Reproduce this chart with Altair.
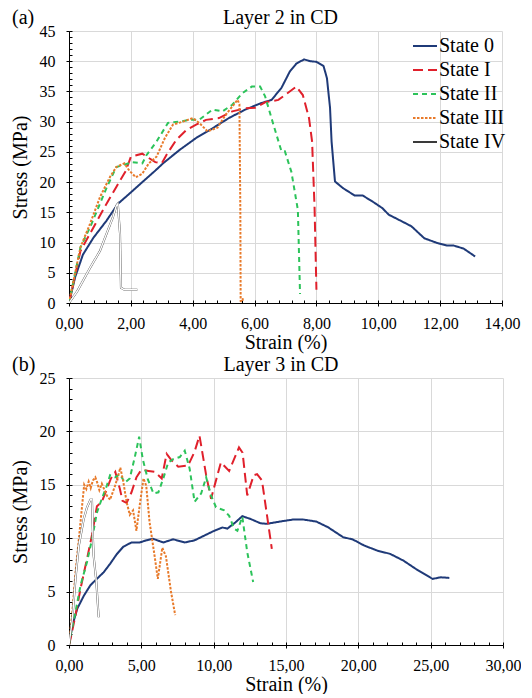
import altair as alt
import pandas as pd

STATES = ["State 0", "State I", "State II", "State III", "State IV"]
COLORS = ["#1f3a78", "#e0202b", "#2cc35a", "#e87a2a", "#3a3a3a"]
DASHES = [[1, 0], [10, 5], [5, 4], [2.5, 1.5], [1, 0]]
WIDTHS = [2, 2, 2, 2, 3.8]
FONT = "Liberation Serif"

# ---------------- Panel (a): Layer 2 in CD ----------------
a0_x = [0, 0.2, 0.45, 0.79, 1.21, 1.58, 2.0, 2.37, 2.79, 3.04, 3.57, 4.11, 4.64, 5.17, 5.70, 6.23, 6.55, 6.87, 7.14, 7.35,
        7.6, 7.81, 8.0, 8.23, 8.34, 8.44, 8.49, 8.6, 8.86, 9.23, 9.49, 9.81, 10.13, 10.34, 10.65, 11.07, 11.49, 11.92, 12.23, 12.44,
        12.76, 13.13]
a0_y = [0, 4.3, 8.0, 10.8, 13.6, 16.4, 18.3, 20.0, 21.9, 23.1, 25.3, 27.3, 28.9, 30.6, 32.0, 33.1, 33.6, 35.6, 38.3, 39.6,
        40.3, 40.0, 39.9, 39.2, 37.2, 32.3, 26.7, 20.1, 19.0, 17.8, 17.8, 16.8, 15.7, 14.6, 13.8, 12.7, 10.7, 9.9, 9.5, 9.5,
        9.0, 7.7]
a1_x = [0, 0.37, 0.79, 1.21, 1.53, 1.84, 2.0, 2.37, 2.79, 3.0, 3.15, 3.47, 3.79, 4.11, 4.43, 4.85, 5.28, 5.7, 6.02, 6.34,
        6.77, 6.98, 7.35, 7.56, 7.76, 7.86, 7.94, 8.0]
a1_y = [0, 8.6, 12.5, 16.4, 19.2, 21.9, 24.2, 24.7, 23.3, 23.1, 24.5, 27.0, 28.6, 29.5, 30.3, 30.6, 31.7, 32.2, 32.3, 33.2,
        33.6, 34.4, 35.8, 34.4, 30.6, 26.7, 15.7, 2.2]
a2_x = [0, 0.37, 0.68, 0.95, 1.21, 1.53, 1.74, 2.05, 2.37, 2.51, 2.83, 3.2, 3.57, 3.9, 4.21, 4.64, 4.96, 5.28, 5.6, 5.91,
        6.18, 6.34, 6.61, 6.87, 6.98, 7.19, 7.4, 7.47]
a2_y = [0, 9.2, 12.5, 15.8, 19.0, 22.5, 22.8, 23.3, 23.1, 24.5, 26.7, 29.8, 30.0, 30.3, 30.3, 32.0, 31.7, 32.8, 34.7, 35.8,
        35.8, 34.2, 29.5, 25.1, 25.1, 21.7, 15.4, 1.5]
a3_x = [0, 0.37, 0.68, 1.0, 1.32, 1.53, 1.79, 1.95, 2.16, 2.37, 2.58, 2.83, 3.1, 3.36, 3.68, 4.0, 4.21, 4.48, 4.8, 5.06,
        5.45, 5.51, 5.54, 5.55, 5.6, 5.63]
a3_y = [0, 9.2, 13.1, 17.5, 20.8, 22.5, 23.1, 21.9, 20.8, 21.4, 23.1, 24.2, 27.3, 29.5, 30.0, 30.6, 29.8, 28.4, 29.0, 31.1,
        33.6, 32.9, 15.1, 0.3, 0.2, 0.9]
a4_x = [0, 0.26, 0.68, 1.0, 1.21, 1.42, 1.53, 1.58, 1.65, 1.68, 1.79, 2.21]
a4_y = [0, 1.9, 5.8, 8.6, 11.4, 14.2, 16.1, 16.4, 11.4, 2.5, 2.2, 2.2]

# ---------------- Panel (b): Layer 3 in CD ----------------
b0_x = [0, 0.23, 0.57, 1.02, 1.48, 1.93, 2.39, 2.84, 3.3, 3.75, 4.32, 4.89, 5.34, 5.8, 6.52, 7.2, 8.0, 8.68, 9.36, 10.05,
        10.61, 10.95, 11.52, 11.98, 12.55, 13.23, 13.68, 14.59, 15.5, 16.18, 17.09, 17.9, 18.94, 19.62, 20.41, 21.31, 22.2,
        23.12, 24.0, 25.13, 25.7, 26.29]
b0_y = [0, 1.8, 3.4, 4.6, 5.6, 6.2, 6.8, 7.6, 8.5, 9.2, 9.6, 9.6, 9.8, 9.95, 9.6, 9.9, 9.6, 9.8, 10.25, 10.7,
        11.0, 10.9, 11.5, 12.06, 11.8, 11.4, 11.35, 11.56, 11.75, 11.75, 11.56, 11.03, 10.1, 9.88, 9.31, 8.84, 8.53,
        7.9, 7.1, 6.19, 6.34, 6.28]
b1_x = [0, 0.11, 0.45, 0.8, 1.25, 1.59, 1.93, 2.27, 2.61, 2.9, 3.2, 3.52, 3.7, 3.98, 4.32, 4.66, 5.0, 5.5, 5.95, 6.41,
        6.75, 7.09, 7.55, 8.23, 8.68, 9.02, 9.48, 9.82, 10.5, 11.07, 11.75, 12.0, 12.32, 12.77, 13.0, 13.34, 14.02]
b1_y = [0, 0.6, 2.8, 5.3, 8.1, 10.3, 13.0, 13.4, 14.6, 15.6, 16.2, 14.6, 13.5, 13.3, 14.3, 15.7, 16.4, 16.3, 16.2, 15.6,
        17.9, 17.3, 16.7, 16.8, 18.1, 19.6, 15.9, 13.7, 17.1, 16.3, 18.5, 18.0, 14.0, 15.9, 16.0, 15.4, 9.0]
b2_x = [0, 0.11, 0.45, 0.8, 1.25, 1.59, 1.93, 2.27, 2.61, 2.84, 3.18, 3.52, 3.86, 4.2, 4.55, 4.85, 5.1, 5.45, 5.84, 6.18,
        6.52, 6.86, 7.2, 7.66, 8.0, 8.34, 8.68, 9.14, 9.48, 9.82, 10.16, 10.73, 11.07, 11.41, 11.64, 11.98, 12.32, 12.73]
b2_y = [0, 0.9, 3.1, 5.6, 7.8, 9.9, 12.4, 13.7, 14.9, 15.9, 15.7, 16.0, 15.2, 15.6, 17.6, 19.5, 17.4, 15.5, 14.2, 14.3,
        15.6, 17.1, 17.4, 17.6, 18.2, 16.5, 13.4, 14.2, 15.7, 14.0, 12.9, 12.6, 12.1, 10.9, 10.7, 12.0, 8.7, 5.9]
b3_x = [0, 0.23, 0.45, 0.68, 0.91, 1.05, 1.2, 1.36, 1.5, 1.65, 1.82, 1.93, 2.1, 2.27, 2.61, 2.84, 3.18, 3.41, 3.55, 3.75,
        3.98, 4.2, 4.43, 4.66, 4.89, 5.15, 5.34, 5.57, 5.91, 6.14, 6.45, 6.7, 7.05, 7.34]
b3_y = [0, 3.1, 6.8, 9.9, 13.1, 15.0, 14.6, 15.3, 14.7, 15.4, 15.7, 15.3, 14.5, 15.1, 14.0, 13.6, 14.9, 15.9, 16.6, 15.3,
        13.4, 12.2, 12.6, 10.7, 13.1, 15.6, 14.9, 11.5, 8.4, 6.2, 9.1, 8.3, 5.0, 2.8]
b4_x = [0, 0.23, 0.45, 0.68, 1.02, 1.25, 1.48, 1.59, 1.66, 1.7, 1.89, 2.05]
b4_y = [0, 2.4, 6.2, 9.3, 11.8, 12.9, 13.6, 13.6, 9.9, 8.4, 5.9, 2.6]


def frame(series):
    rows = []
    for state, xs, ys in series:
        for i, (x, y) in enumerate(zip(xs, ys)):
            rows.append({"state": state, "strain": x, "stress": y, "i": i})
    return pd.DataFrame(rows)


def ticks(stop, step):
    out, k = [], 0
    while k * step <= stop + 1e-9:
        out.append(round(k * step, 4))
        k += 1
    return out


AX = dict(labelFont=FONT, labelFontSize=16, labelColor="black", labelFontWeight="normal",
          titleFont=FONT, titleFontSize=20, titleFontWeight="normal", titleColor="black",
          domainColor="black", tickColor="black", gridColor="#d9d9d9", domainWidth=1, tickWidth=1,
          labelFlush=False, labelOverlap=False)


def panel(df, title, tag, xmax, xstep, xminor, ymax, ystep, w, h, legx, legy):
    xs = alt.Scale(domain=[0, xmax], nice=False, zero=True)
    ys = alt.Scale(domain=[0, ymax], nice=False, zero=True)
    lab = "replace(format(datum.value, '.2f'), '.', ',')"
    leg = alt.Legend(orient="none", legendX=legx, legendY=legy, title=None, symbolType="stroke",
                     symbolSize=576, symbolStrokeWidth=2, labelFont=FONT, labelFontSize=20,
                     labelColor="black", labelOffset=1, rowPadding=1, padding=0)
    base = alt.Chart(df)
    lines = base.mark_line(clip=True).encode(
        x=alt.X("strain:Q", scale=xs, axis=alt.Axis(
            orient="bottom", values=ticks(xmax, xstep), labelExpr=lab, title="Strain (%)",
            tickSize=3, labelPadding=9, titlePadding=1, grid=True, **AX)),
        y=alt.Y("stress:Q", scale=ys, axis=alt.Axis(
            orient="left", values=ticks(ymax, ystep), format="d", title="Stress (MPa)",
            tickSize=3, labelPadding=11, titlePadding=9, grid=True, **AX)),
        color=alt.Color("state:N", scale=alt.Scale(domain=STATES, range=COLORS), legend=leg),
        strokeDash=alt.StrokeDash("state:N", scale=alt.Scale(domain=STATES, range=DASHES), legend=leg),
        strokeWidth=alt.StrokeWidth("state:N", scale=alt.Scale(domain=STATES, range=WIDTHS), legend=None),
        order=alt.Order("i:Q"),
    )
    inner = base.transform_filter(alt.datum.state == "State IV").mark_line(
        color="white", strokeWidth=1.4, clip=True).encode(
        x=alt.X("strain:Q", scale=xs, axis=None),
        y=alt.Y("stress:Q", scale=ys, axis=None),
        order=alt.Order("i:Q"),
    )
    minor = base.mark_point(opacity=0).encode(
        x=alt.X("strain:Q", scale=xs, axis=alt.Axis(
            orient="bottom", values=ticks(xmax, xminor), offset=-3, tickSize=3, labels=False,
            domain=False, grid=False, title=None, tickColor="black", tickWidth=1)),
        y=alt.Y("stress:Q", scale=ys, axis=alt.Axis(
            orient="left", values=ticks(ymax, 1), offset=-3, tickSize=3, labels=False,
            domain=False, grid=False, title=None, tickColor="black", tickWidth=1)),
    )
    heads = alt.Chart(pd.DataFrame({"t": [tag]})).mark_text(
        align="left", baseline="alphabetic", font=FONT, fontSize=20, color="black").encode(
        x=alt.value(-57), y=alt.value(-7), text="t:N")
    ttl = alt.Chart(pd.DataFrame({"t": [title]})).mark_text(
        align="center", baseline="alphabetic", font=FONT, fontSize=20, color="black").encode(
        x=alt.value(w / 2 - 5), y=alt.value(-7), text="t:N")
    return alt.layer(minor, lines, inner, heads, ttl).resolve_axis(
        x="independent", y="independent").properties(width=w, height=h)


dfa = frame([("State 0", a0_x, a0_y), ("State I", a1_x, a1_y), ("State II", a2_x, a2_y),
             ("State III", a3_x, a3_y), ("State IV", a4_x, a4_y)])
dfb = frame([("State 0", b0_x, b0_y), ("State I", b1_x, b1_y), ("State II", b2_x, b2_y),
             ("State III", b3_x, b3_y), ("State IV", b4_x, b4_y)])

pa = panel(dfa, "Layer 2 in CD", "(a)", 14, 2, 0.4, 45, 5, 433, 272, 343, 2)
pb = panel(dfb, "Layer 3 in CD", "(b)", 30, 5, 1, 25, 5, 434, 267, 332, 0)

chart = alt.vconcat(pa, pb, spacing=3).properties(
    padding={"left": 2, "top": 0, "right": 0, "bottom": 0}
).configure(font=FONT).configure_view(stroke=None).configure_axis(
    labelFont=FONT, labelFontSize=16, labelColor="black", labelFontWeight="normal",
    titleFont=FONT, titleFontSize=20, titleFontWeight="normal", titleColor="black"
).configure_legend(labelFont=FONT, labelFontSize=20, labelColor="black")

chart.save("out.html", embed_options={"renderer": "svg", "actions": False})
